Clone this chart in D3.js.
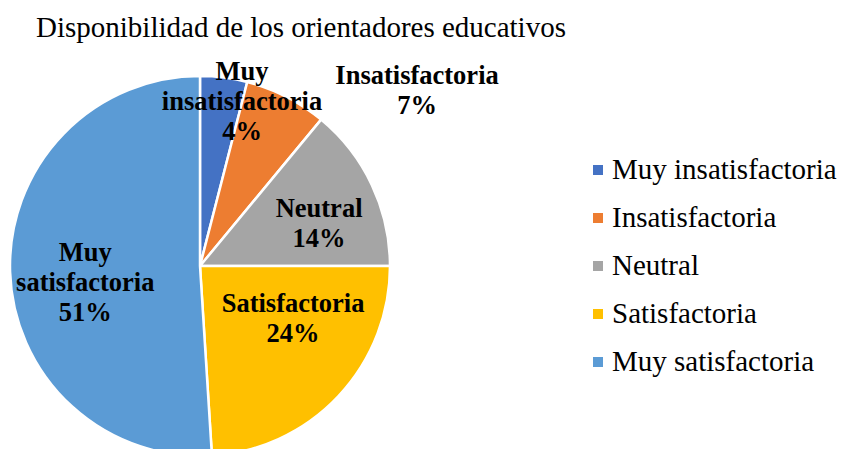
<!DOCTYPE html>
<html>
<head>
<meta charset="utf-8">
<script src="https://cdn.jsdelivr.net/npm/d3@7"></script>
<style>
  body { margin: 0; background: #fff; }
  text { font-family: "Liberation Serif", "Times New Roman", serif; }
</style>
</head>
<body>
<div id="chart"></div>
<script>
// chart data
var categories = ["Muy insatisfactoria", "Insatisfactoria", "Neutral", "Satisfactoria", "Muy satisfactoria"];
var values = [4, 7, 14, 24, 51];
var colors = ["#4472C4", "#ED7D31", "#A5A5A5", "#FFC000", "#5B9BD5"];
// data label lines (word wrapped as in the original)
var labelLines = [["Muy", "insatisfactoria"], ["Insatisfactoria"], ["Neutral"], ["Satisfactoria"], ["Muy", "satisfactoria"]];
var title = "Disponibilidad de los orientadores educativos";

// label placement: angle (deg from top, clockwise) and radius as a fraction of the pie radius
var labelPlace = [{a: 14.3, r: 0.895}, {a: 51, r: 1.47}, {a: 70, r: 0.667}, {a: 119, r: 0.56}, {a: 262, r: 0.61}];

var width = 841, height = 449;
var cx = 200, cy = 266, radius = 190;

var svg = d3.select("#chart").append("svg")
    .attr("width", width)
    .attr("height", height);

svg.append("text")
    .attr("x", 301)
    .attr("y", 37)
    .attr("text-anchor", "middle")
    .style("font-size", "29px")
    .attr("fill", "#000")
    .text(title);

var pie = d3.pie().sort(null).value(function(d){ return d; });
var arc = d3.arc().innerRadius(0).outerRadius(radius);
var arcs = pie(values);

var g = svg.append("g").attr("transform", "translate(" + cx + "," + cy + ")");

g.selectAll("path.slice")
    .data(arcs)
    .enter().append("path")
    .attr("class", "slice")
    .attr("d", arc)
    .attr("fill", function(d, i){ return colors[i]; })
    .attr("stroke", "#fff")
    .attr("stroke-width", 2.5)
    .attr("stroke-linejoin", "round");

// data labels
var lineH = 30;
var labels = g.selectAll("text.lbl")
    .data(arcs)
    .enter().append("text")
    .attr("class", "lbl")
    .attr("text-anchor", "middle")
    .style("font-size", "26.5px")
    .style("font-weight", "bold")
    .attr("fill", "#000");

labels.each(function(d, i){
    var p = labelPlace[i];
    var ang = p.a * Math.PI / 180;
    var x = Math.sin(ang) * p.r * radius;
    var y = -Math.cos(ang) * p.r * radius;
    var lines = labelLines[i].concat([values[i] + "%"]);
    var y0 = y - (lines.length - 1) * lineH / 2 + 9;
    var t = d3.select(this);
    lines.forEach(function(s, k){
        t.append("tspan").attr("x", x).attr("y", y0 + k * lineH).text(s);
    });
});

// legend
var legendY = d3.scalePoint().domain(categories).range([179, 371]);
var leg = svg.append("g").selectAll("g")
    .data(categories)
    .enter().append("g")
    .attr("transform", function(d){ return "translate(593," + legendY(d) + ")"; });

leg.append("rect")
    .attr("x", 0)
    .attr("y", -14)
    .attr("width", 10)
    .attr("height", 10)
    .attr("fill", function(d, i){ return colors[i]; });

leg.append("text")
    .attr("x", 19)
    .attr("y", 0)
    .style("font-size", "29px")
    .attr("fill", "#000")
    .text(function(d){ return d; });
</script>
</body>
</html>
